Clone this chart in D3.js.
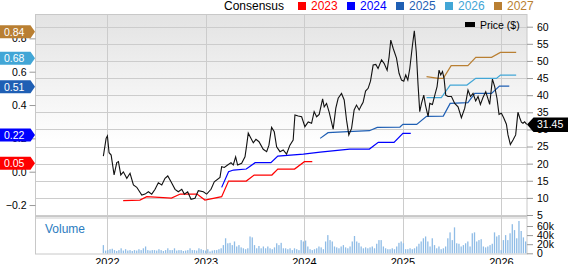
<!DOCTYPE html>
<html>
<head>
<meta charset="utf-8">
<title>Price, Consensus and Volume</title>
<script src="https://d3js.org/d3.v7.min.js"></script>
<style>
  body { margin: 0; background: #fff; }
  svg { display: block; font-family: Arial, "Liberation Sans", sans-serif; }
</style>
</head>
<body>
<svg width="568" height="264"></svg>
<script>
// ---- data ----
var yearTicks = [2022, 2023, 2024, 2025, 2026];
var priceTicks = [5, 10, 15, 20, 25, 30, 35, 40, 45, 50, 55, 60];
var epsTicks = [-0.2, 0.0, 0.2, 0.4, 0.6, 0.8];
var volTicks = [0, 20, 40, 60];

var consYears = ["2023", "2024", "2025", "2026", "2027"];
var consColors = ["#ff0000", "#0000ff", "#1f5fb4", "#42a6d6", "#b97f32"];
var consLatest = [0.05, 0.22, 0.51, 0.68, 0.84];

var cons2023 = [[2022.16,-0.174],[2022.33,-0.170],[2022.40,-0.150],[2022.65,-0.158],[2022.74,-0.134],[2022.91,-0.134],[2022.99,-0.170],[2023.16,-0.150],[2023.23,-0.056],[2023.41,-0.056],[2023.49,-0.020],[2023.67,-0.020],[2023.73,0.016],[2023.90,0.016],[2024.00,0.060],[2024.08,0.060]];
var cons2024 = [[2023.16,-0.094],[2023.23,0.0],[2023.28,0.010],[2023.41,0.016],[2023.50,0.054],[2023.66,0.054],[2023.73,0.094],[2023.99,0.106],[2024.16,0.118],[2024.46,0.136],[2024.66,0.136],[2024.75,0.176],[2024.91,0.176],[2025.00,0.230],[2025.08,0.230]];
var cons2025 = [[2024.16,0.200],[2024.24,0.234],[2024.44,0.240],[2024.66,0.246],[2024.74,0.266],[2024.97,0.268],[2025.00,0.284],[2025.14,0.284],[2025.24,0.332],[2025.41,0.334],[2025.48,0.410],[2025.66,0.414],[2025.73,0.470],[2025.90,0.470],[2025.98,0.514],[2026.08,0.514]];
var cons2026 = [[2025.24,0.444],[2025.39,0.444],[2025.48,0.520],[2025.65,0.520],[2025.74,0.560],[2025.95,0.560],[2025.99,0.580],[2026.15,0.580]];
var cons2027 = [[2025.24,0.570],[2025.36,0.560],[2025.41,0.560],[2025.49,0.636],[2025.66,0.636],[2025.74,0.686],[2025.90,0.686],[2025.99,0.716],[2026.15,0.716]];

var lastPrice = 31.45;
var priceData = [
[2021.959,22.2],[2021.987,27.4],[2022.000,28.1],[2022.017,23.2],[2022.038,22.5],[2022.068,16.7],[2022.095,20.3],[2022.112,20.6],[2022.136,16.7],[2022.162,17.6],[2022.197,15.7],[2022.230,17.2],[2022.264,13.8],[2022.298,13.1],[2022.349,10.8],[2022.382,11.1],[2022.416,11.8],[2022.450,11.1],[2022.484,12.5],[2022.517,14.4],[2022.552,13.8],[2022.585,15.7],[2022.613,16.4],[2022.646,14.7],[2022.687,12.5],[2022.720,11.8],[2022.755,12.5],[2022.781,11.1],[2022.815,11.8],[2022.849,9.6],[2022.889,9.9],[2022.923,12.1],[2022.974,11.8],[2023.008,11.1],[2023.052,12.5],[2023.085,14.7],[2023.143,16.0],[2023.160,19.1],[2023.187,18.9],[2023.221,19.6],[2023.255,20.3],[2023.278,19.6],[2023.302,22.0],[2023.322,19.6],[2023.363,20.1],[2023.397,22.0],[2023.414,25.4],[2023.430,28.9],[2023.457,27.4],[2023.481,26.1],[2023.508,27.1],[2023.539,26.4],[2023.582,24.2],[2023.617,23.5],[2023.640,25.4],[2023.667,30.6],[2023.694,29.3],[2023.718,24.9],[2023.752,23.5],[2023.785,24.0],[2023.819,22.8],[2023.853,25.4],[2023.886,26.9],[2023.904,34.2],[2023.937,33.9],[2023.972,33.7],[2024.005,30.8],[2024.039,32.2],[2024.073,31.8],[2024.099,35.2],[2024.124,33.7],[2024.150,34.4],[2024.185,38.9],[2024.201,36.6],[2024.225,37.6],[2024.252,35.0],[2024.292,30.1],[2024.319,36.2],[2024.343,39.1],[2024.377,40.5],[2024.404,38.6],[2024.428,32.7],[2024.451,28.4],[2024.479,30.3],[2024.505,35.7],[2024.529,37.1],[2024.556,35.7],[2024.580,37.1],[2024.596,37.9],[2024.621,41.2],[2024.647,42.0],[2024.671,44.1],[2024.698,48.8],[2024.725,49.0],[2024.748,47.8],[2024.783,50.3],[2024.809,49.3],[2024.840,47.3],[2024.860,51.2],[2024.877,56.1],[2024.901,53.7],[2024.935,50.8],[2024.961,46.4],[2024.986,44.4],[2025.009,44.1],[2025.029,45.9],[2025.050,44.4],[2025.070,47.8],[2025.097,54.6],[2025.116,58.8],[2025.136,52.6],[2025.154,43.0],[2025.171,35.2],[2025.189,37.6],[2025.212,40.0],[2025.229,37.1],[2025.256,33.7],[2025.273,37.6],[2025.300,37.3],[2025.324,40.0],[2025.347,42.5],[2025.367,47.3],[2025.384,45.9],[2025.402,46.9],[2025.418,44.9],[2025.435,40.0],[2025.458,39.6],[2025.493,39.6],[2025.526,37.6],[2025.560,36.6],[2025.594,33.4],[2025.628,36.2],[2025.661,41.5],[2025.686,39.6],[2025.712,40.5],[2025.739,38.3],[2025.763,39.6],[2025.787,37.3],[2025.813,39.3],[2025.841,41.0],[2025.864,38.9],[2025.881,37.3],[2025.909,44.7],[2025.932,42.5],[2025.955,39.1],[2025.976,34.4],[2026.000,34.7],[2026.023,33.4],[2026.051,31.5],[2026.067,28.4],[2026.091,25.6],[2026.118,26.9],[2026.145,28.4],[2026.158,32.2],[2026.168,35.0],[2026.186,33.4],[2026.203,32.1],[2026.219,31.8],[2026.236,32.2],[2026.257,31.45]
];

// volume in thousands, evenly spaced bars from volStart to volEnd
var volStart = 2021.959, volEnd = 2026.246;
var volValues = [
18,6,7,9,10,7,5,7,11,6,9,6,7,5,7,6,9,7,11,15,7,6,7,7,6,9,7,5,7,11,7,7,11,6,7,7,5,6,7,11,7,7,6,11,9,7,6,
9,4,6,7,7,9,11,18,33,22,23,18,26,15,18,13,11,9,11,37,35,18,11,16,11,15,11,15,11,9,13,22,18,23,11,
11,9,11,7,11,9,7,29,26,28,15,9,7,9,11,15,13,9,26,40,29,26,15,13,11,15,18,13,11,15,
26,38,26,23,15,11,13,11,13,15,11,21,29,29,15,11,9,9,11,9,15,23,26,22,9,9,11,9,11,15,
21,26,33,37,26,15,33,18,11,15,9,11,15,33,46,29,57,22,21,15,18,22,26,15,44,46,26,29,31,15,
13,15,18,21,46,37,40,7,29,40,29,44,64,51,33,71,49,35,26
];

// ---- layout ----
var L = 35.5, R = 527, T = 14, mainB = 216, volT = 219, B = 254;

var svg = d3.select("svg");

var x = d3.scaleLinear().domain([2021.27, 2026.26]).range([L, R]);
var yPrice = d3.scaleLinear().domain([5, 60]).range([215, 26.7]);
var yEps = d3.scaleLinear().domain([0, 0.6]).range([171.7, 71.7]);
var yVol = d3.scaleLinear().domain([0, 60]).range([253.3, 226]);

var grad = svg.append("defs").append("linearGradient")
    .attr("id", "bg").attr("x1", 0).attr("y1", 0).attr("x2", 0).attr("y2", 1);
grad.append("stop").attr("offset", "0%").attr("stop-color", "#e3e3e3");
grad.append("stop").attr("offset", "65%").attr("stop-color", "#ffffff");

svg.append("rect").attr("x", L).attr("y", T).attr("width", R - L).attr("height", mainB - T)
    .attr("fill", "url(#bg)");
svg.append("rect").attr("x", L).attr("y", mainB).attr("width", R - L).attr("height", volT - mainB)
    .attr("fill", "#e6e6e6");

// grid
svg.append("g").selectAll("line").data(priceTicks).enter().append("line")
    .attr("x1", L).attr("x2", R)
    .attr("y1", function (d) { return Math.round(yPrice(d)) + 0.5; })
    .attr("y2", function (d) { return Math.round(yPrice(d)) + 0.5; })
    .attr("stroke", "#cccccc");
svg.append("g").selectAll("line").data(yearTicks).enter().append("line")
    .attr("y1", T).attr("y2", B)
    .attr("x1", function (d) { return Math.round(x(d)) + 0.5; })
    .attr("x2", function (d) { return Math.round(x(d)) + 0.5; })
    .attr("stroke", "#cccccc");

// frame
svg.append("rect").attr("x", L).attr("y", T + 0.5).attr("width", R - L).attr("height", B - T - 0.5)
    .attr("fill", "none").attr("stroke", "#c8c8c8");
svg.append("line").attr("x1", L).attr("x2", R).attr("y1", mainB + 0.5).attr("y2", mainB + 0.5)
    .attr("stroke", "#c8c8c8");

// volume bars
var volStep = (volEnd - volStart) / (volValues.length - 1);
svg.append("g").selectAll("rect").data(volValues).enter().append("rect")
    .attr("x", function (d, i) { return x(volStart + i * volStep) - 0.65; })
    .attr("width", 1.3)
    .attr("y", function (d) { return yVol(d); })
    .attr("height", function (d) { return yVol(0) - yVol(d); })
    .attr("fill", "#8fbce6");

svg.append("text").attr("x", 45).attr("y", 233).attr("font-size", 12)
    .attr("fill", "#2b7cc0").text("Volume");

// consensus lines
var epsLine = d3.line()
    .x(function (d) { return x(d[0]); })
    .y(function (d) { return yEps(d[1]); });
var consSeries = [cons2023, cons2024, cons2025, cons2026, cons2027];
svg.append("g").selectAll("path").data(consSeries).enter().append("path")
    .attr("d", epsLine)
    .attr("fill", "none")
    .attr("stroke", function (d, i) { return consColors[i]; })
    .attr("stroke-width", 1.2);

// price line
var priceLine = d3.line()
    .x(function (d) { return x(d[0]); })
    .y(function (d) { return yPrice(d[1]); });
svg.append("path").datum(priceData).attr("d", priceLine)
    .attr("fill", "none").attr("stroke", "#111").attr("stroke-width", 1.1);

// axes
function styleAxis(g) {
    g.select(".domain").remove();
    g.selectAll(".tick line").attr("stroke", "#999");
    g.selectAll(".tick text").attr("fill", "#000").attr("font-size", 10.5)
        .attr("font-family", "Arial, 'Liberation Sans', sans-serif");
}
svg.append("g").attr("transform", "translate(" + R + ",0)")
    .call(d3.axisRight(yPrice).tickValues(priceTicks).tickSize(6).tickPadding(4))
    .call(styleAxis);
svg.append("g").attr("transform", "translate(" + R + ",0)")
    .call(d3.axisRight(yVol).tickValues(volTicks).tickSize(6).tickPadding(4)
        .tickFormat(function (d) { return d === 0 ? "0" : d + "k"; }))
    .call(styleAxis);
svg.append("g").attr("transform", "translate(" + L + ",0)")
    .call(d3.axisLeft(yEps).tickValues(epsTicks).tickSize(6).tickPadding(3)
        .tickFormat(d3.format(".1f")))
    .call(styleAxis);

svg.append("g").selectAll("text").data(yearTicks).enter().append("text")
    .attr("x", function (d) { return x(d); }).attr("y", 265.5)
    .attr("text-anchor", "middle").attr("font-size", 11).text(function (d) { return d; });

// consensus value tags on the left
var tags = svg.append("g").selectAll("g").data(consLatest).enter().append("g")
    .attr("transform", function (d) { return "translate(0," + yEps(d) + ")"; });
tags.append("path").attr("d", "M0,-6.5H30.5L35,0L30.5,6.5H0Z")
    .attr("fill", function (d, i) { return consColors[i]; });
tags.append("text").attr("x", 4).attr("y", 4).attr("font-size", 10.5).attr("fill", "#fff")
    .text(function (d) { return d3.format(".2f")(d); });

// last price tag
var pt = svg.append("g").attr("transform", "translate(" + R + "," + yPrice(lastPrice) + ")");
pt.append("path").attr("d", "M0,0L6.5,-7H41V7.5H6.5Z").attr("fill", "#000");
pt.append("text").attr("x", 10).attr("y", 4).attr("font-size", 10.5).attr("fill", "#fff")
    .text(d3.format(".2f")(lastPrice));

// legend
svg.append("text").attr("x", 224).attr("y", 9.5).attr("font-size", 12).text("Consensus");
var leg = svg.append("g").selectAll("g").data(consYears).enter().append("g")
    .attr("transform", function (d, i) { return "translate(" + (298 + i * 49) + ",0)"; });
leg.append("rect").attr("x", 0).attr("y", 2).attr("width", 8).attr("height", 8)
    .attr("fill", function (d, i) { return consColors[i]; });
leg.append("text").attr("x", 13).attr("y", 9.5).attr("font-size", 12)
    .attr("fill", function (d, i) { return consColors[i]; })
    .text(function (d) { return d; });

svg.append("rect").attr("x", 465).attr("y", 22).attr("width", 10).attr("height", 5).attr("fill", "#000");
svg.append("text").attr("x", 480).attr("y", 29).attr("font-size", 10.5).text("Price ($)");
</script>
</body>
</html>
